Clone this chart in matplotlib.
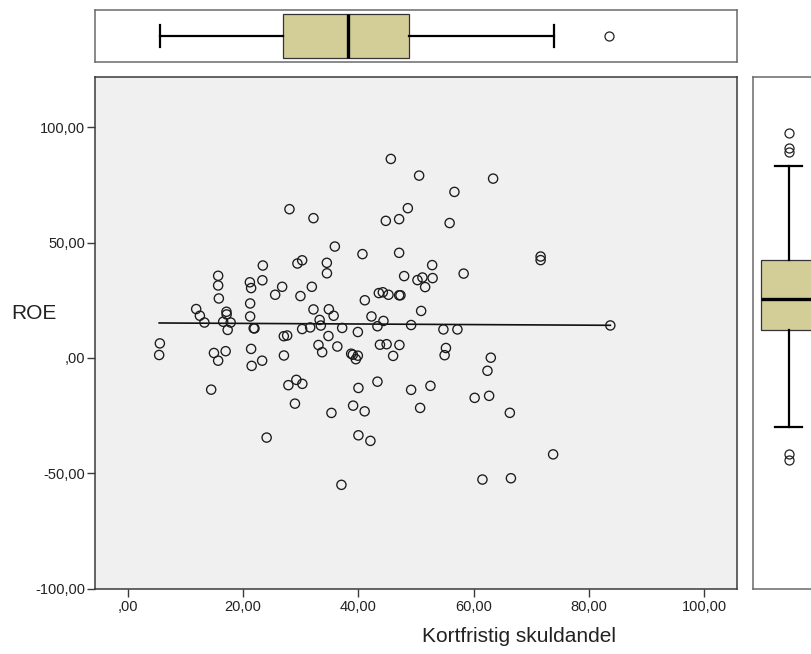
import numpy as np
import matplotlib
matplotlib.use('Agg')
import matplotlib.pyplot as plt

plt.rcParams['font.family'] = ['Liberation Sans', 'DejaVu Sans']

# ---- data ----
kortfristig = [45.61, 50.52, 63.35, 56.64, 28.03, 32.19, 48.56, 44.74, 47.05, 55.81,
               35.90, 40.69, 47.05, 71.59, 71.59, 23.41, 29.41, 30.23, 34.51, 34.53,
               52.78, 58.24, 15.66, 15.66, 15.78, 21.16, 21.38, 23.33, 26.76, 25.55,
               29.93, 31.91, 47.92, 50.23, 51.09, 52.86, 51.56, 43.53, 44.22, 45.20,
               47.05, 47.28, 41.10, 21.21, 21.21, 11.85, 12.49, 13.28, 17.10, 17.13,
               16.53, 17.83, 17.31, 21.82, 21.96, 32.19, 34.86, 35.69, 33.26, 33.47,
               30.23, 31.62, 37.17, 39.89, 42.25, 44.33, 43.29, 49.13, 50.87, 54.73,
               57.16, 83.68, 5.55, 5.43, 14.93, 16.96, 21.38, 27.05, 27.63, 27.07,
               33.06, 33.70, 34.79, 36.33, 38.73, 39.02, 39.89, 39.54, 43.72, 44.88,
               47.10, 46.01, 55.17, 54.94, 62.95, 15.66, 21.47, 23.29, 62.37, 14.45,
               27.84, 29.22, 30.26, 28.98, 35.31, 39.07, 39.99, 41.07, 43.29, 49.13,
               50.69, 52.48, 60.15, 62.66, 66.25, 24.07, 39.99, 42.07, 37.04, 73.76,
               61.50, 66.44]
roe = [86.35, 79.12, 77.82, 72.05, 64.56, 60.66, 64.99, 59.49, 60.23, 58.54,
       48.35, 45.06, 45.62, 44.02, 42.46, 40.12, 40.99, 42.37, 41.29, 36.74,
       40.29, 36.61, 35.66, 31.46, 25.82, 32.84, 30.33, 33.71, 30.89, 27.43,
       26.86, 30.89, 35.53, 33.80, 34.92, 34.66, 30.76, 28.16, 28.51, 27.43,
       27.21, 27.21, 25.04, 23.66, 18.02, 21.23, 18.33, 15.38, 20.06, 18.89,
       15.73, 15.38, 12.18, 12.91, 12.82, 21.06, 21.14, 18.33, 16.51, 14.08,
       12.56, 13.26, 13.04, 11.27, 18.02, 16.07, 13.78, 14.30, 20.41, 12.39,
       12.39, 14.12, 6.33, 1.30, 2.17, 2.95, 3.94, 9.45, 9.75, 1.08,
       5.63, 2.51, 9.53, 4.98, 1.86, 1.43, 1.00, -0.52, 5.76, 5.98,
       5.63, 0.91, 4.33, 1.21, 0.13, -1.17, -3.42, -1.17, -5.55, -13.73,
       -11.79, -9.49, -11.22, -19.80, -23.83, -20.67, -13.00, -23.14, -10.27, -13.82,
       -21.66, -12.09, -17.29, -16.42, -23.79, -34.53, -33.54, -35.96, -55.03, -41.81,
       -52.73, -52.17]

x_ticks = [0, 20, 40, 60, 80, 100]
x_ticklabels = [',00', '20,00', '40,00', '60,00', '80,00', '100,00']
y_ticks = [-100, -50, 0, 50, 100]
y_ticklabels = ['-100,00', '-50,00', ',00', '50,00', '100,00']

# marginal box plot summaries (as drawn in the reference)
x_box_stats = [5.64, 26.88, 38.24, 48.79, 73.86]   # whislo, q1, med, q3, whishi
x_box_fliers = [83.40]
y_box_stats = [-30.0, 12.3, 25.6, 42.3, 83.4]
y_box_fliers = [97.6, 91.3, 89.5, -41.6, -44.1]

x_label = 'Kortfristig skuldandel'
y_label = 'ROE'

# ---- figure ----
W, H = 812, 654
fig = plt.figure(figsize=(W / 100, H / 100), dpi=100, facecolor='white')

def rect(l, t, r, b):
    return [l / W, 1 - b / H, (r - l) / W, (b - t) / H]

ax = fig.add_axes(rect(95, 77, 736.7, 588.5))
ax_top = fig.add_axes(rect(95, 10, 736.7, 62))
ax_right = fig.add_axes(rect(753.3, 77, 824, 588.5))

box_color = '#D3CE98'
frame_color = '#3a3a3a'
panel_color = '#6a6a6a'

# main scatter
ax.set_facecolor('#F0F0F0')
ax.scatter(kortfristig, roe, s=44, facecolors='none', edgecolors='#1a1a1a',
           linewidths=0.95, zorder=3)
coef = np.polyfit(kortfristig, roe, 1)
xl = np.array([min(kortfristig), max(kortfristig)])
ax.plot(xl, np.polyval(coef, xl), color='#111111', lw=1.2, zorder=2)

ax.set_xlim(-5.7, 105.6)
ax.set_ylim(-100, 121.9)
ax.set_xticks(x_ticks)
ax.set_xticklabels(x_ticklabels)
ax.set_yticks(y_ticks)
ax.set_yticklabels(y_ticklabels)
ax.tick_params(axis='both', direction='out', length=5.5, width=1.0, color=frame_color,
               labelsize=10.5, labelcolor='#222222')
ax.tick_params(axis='y', pad=1.5)
ax.tick_params(axis='x', pad=3)
for sp in ax.spines.values():
    sp.set_color(frame_color)
    sp.set_linewidth(1.1)

fig.text(519 / W, 1 - 637 / H, x_label, ha='center', va='center', fontsize=15,
         color='#222222')
fig.text(11 / W, 1 - 314 / H, y_label, ha='left', va='center', fontsize=15,
         color='#222222')

def stats(v, fl):
    return dict(whislo=v[0], q1=v[1], med=v[2], q3=v[3], whishi=v[4], fliers=fl)

boxprops = dict(facecolor=box_color, edgecolor='#333333', linewidth=0.9)
whiskerprops = dict(color='black', linewidth=1.6)
capprops = dict(color='black', linewidth=1.6)
medianprops = dict(color='black', linewidth=2.4)
flierprops = dict(marker='o', markerfacecolor='none', markeredgecolor='#222222',
                  markersize=6.5, markeredgewidth=0.9)

# top marginal box plot
ax_top.bxp([stats(x_box_stats, x_box_fliers)], positions=[0.5], widths=0.85,
           orientation='horizontal', patch_artist=True, showfliers=True,
           boxprops=boxprops, whiskerprops=whiskerprops, capprops=capprops,
           medianprops=medianprops, flierprops=flierprops, capwidths=0.42,
           manage_ticks=False)
ax_top.set_xlim(-5.7, 105.6)
ax_top.set_ylim(0, 1)
ax_top.set_xticks([])
ax_top.set_yticks([])
ax_top.set_facecolor('white')
for sp in ax_top.spines.values():
    sp.set_color(panel_color)
    sp.set_linewidth(1.1)

# right marginal box plot
ax_right.bxp([stats(y_box_stats, y_box_fliers)], positions=[0.5], widths=0.79,
             orientation='vertical', patch_artist=True, showfliers=True,
             boxprops=boxprops, whiskerprops=whiskerprops, capprops=capprops,
             medianprops=medianprops, flierprops=flierprops, capwidths=0.39,
             manage_ticks=False)
ax_right.set_ylim(-100, 121.9)
ax_right.set_xlim(0, 1)
ax_right.set_xticks([])
ax_right.set_yticks([])
ax_right.set_facecolor('white')
for sp in ax_right.spines.values():
    sp.set_color(panel_color)
    sp.set_linewidth(1.1)

fig.savefig('out.png', dpi=100, facecolor='white')
